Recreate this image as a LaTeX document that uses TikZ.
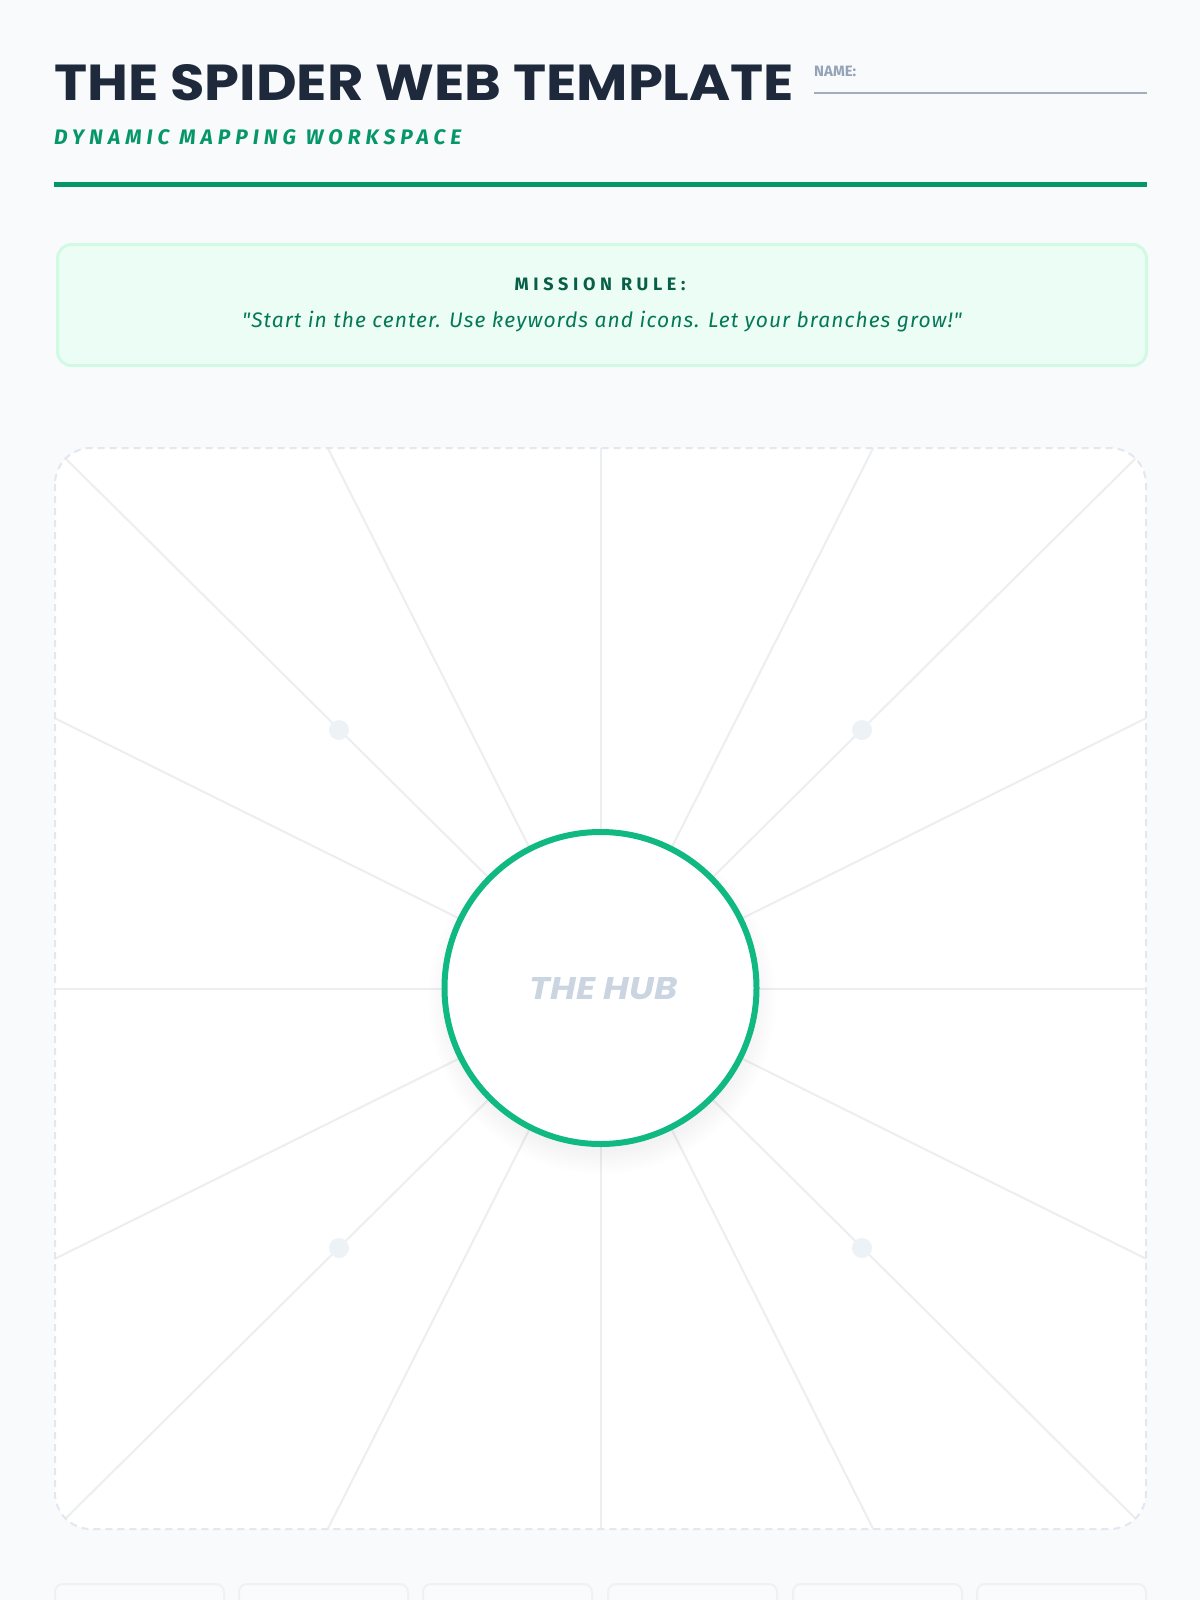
\documentclass[tikz,border=0pt]{standalone}
\usepackage{fontspec}
\setmainfont{Poppins}
\newfontfamily\firafont{Fira Sans}
\usetikzlibrary{positioning,calc}

\definecolor{pagebg}{HTML}{F8FAFC}
\definecolor{inkdark}{HTML}{1E293B}
\definecolor{brandgreen}{HTML}{059669}
\definecolor{hubgreen}{HTML}{10B981}
\definecolor{mintfill}{HTML}{ECFDF5}
\definecolor{mintline}{HTML}{D1FAE5}
\definecolor{rulegreen}{HTML}{065F46}
\definecolor{quotegreen}{HTML}{047857}
\definecolor{slatetext}{HTML}{94A3B8}
\definecolor{slateline}{HTML}{A0AEC0}
\definecolor{dashgray}{HTML}{E2E8F0}
\definecolor{spokegray}{HTML}{EDEEF0}
\definecolor{hubtext}{HTML}{CBD5E1}
\definecolor{dotfill}{HTML}{EDF2F7}
\definecolor{cardline}{HTML}{EEF2F6}
\definecolor{cardfill}{HTML}{FAFBFC}

\begin{document}
\begin{tikzpicture}[
    x=1pt, y=-1pt,
    heading/.style={anchor=base west, inner sep=0pt, text=inkdark},
    subheading/.style={anchor=base west, inner sep=0pt, text=brandgreen, font=\firafont\bfseries\itshape\fontsize{21}{22}\selectfont\addfontfeatures{LetterSpace=24}},
    missionbox/.style={draw=mintline, line width=3pt, fill=mintfill, rounded corners=14pt, anchor=north west, minimum width=1089pt, minimum height=121pt, inner sep=0pt},
    workspace/.style={draw=dashgray, line width=2pt, dash pattern=on 7pt off 5pt, rounded corners=36pt},
    spoke/.style={draw=spokegray, line width=2pt},
    hubring/.style={circle, draw=hubgreen, line width=6pt, fill=white, minimum size=312pt, inner sep=0pt},
    webdot/.style={circle, fill=dotfill, minimum size=20pt, inner sep=0pt},
    card/.style={draw=cardline, line width=2pt, fill=cardfill, rounded corners=8pt}
]

% Page
\useasboundingbox (0,0) rectangle (1200,1600);
\fill[pagebg] (0,0) rectangle (1200,1600);

% Header
\node[heading] (title) at (54,101) {\resizebox{740pt}{36pt}{\bfseries THE SPIDER WEB TEMPLATE}};
\node[subheading] (subtitle) at (54,144) {DYNAMIC MAPPING WORKSPACE};
\node[anchor=base west, inner sep=0pt, text=slatetext, font=\firafont\bfseries\fontsize{15}{16}\selectfont] (namelabel) at (814,77) {NAME:};
\coordinate (namestart) at (814,93);
\coordinate (nameend) at (1147,93);
\draw[slateline, line width=2pt] (namestart) -- (nameend);
\coordinate (rulestart) at (54,184.5);
\coordinate (ruleend) at (1147,184.5);
\draw[brandgreen, line width=5pt] (rulestart) -- (ruleend);

% Mission rule
\node[missionbox] (mission) at (56,243) {};
\node[inner sep=0pt, anchor=base, text=rulegreen, font=\firafont\bfseries\fontsize{18}{19}\selectfont\addfontfeatures{LetterSpace=26}] (ruletitle) at (600,290) {MISSION RULE:};
\node[inner sep=0pt, anchor=base, text=quotegreen, font=\firafont\itshape\fontsize{21}{22}\selectfont\addfontfeatures{LetterSpace=5}] (rulequote) at (602,327) {"Start in the center. Use keywords and icons. Let your branches grow!"};

% Workspace
\fill[white, rounded corners=36pt] (55,448) rectangle (1146,1529);
\begin{scope}
  \clip[rounded corners=36pt] (55,448) rectangle (1146,1529);
  \coordinate (hubc) at (600.5,988.5);
  \foreach \px/\py [count=\i] in {0/0, 0.25/0, 0.5/0, 0.75/0, 1/0, 1/0.25, 1/0.5, 1/0.75,
                                  1/1, 0.75/1, 0.5/1, 0.25/1, 0/1, 0/0.75, 0/0.5, 0/0.25} {
    \coordinate (s\i) at ($(55,448)+(\px*1091,\py*1081)$);
    \draw[spoke] (hubc) -- (s\i);
  }
\end{scope}
\draw[workspace] (55,448) rectangle (1146,1529);

% Branch dots
\node[webdot] (dotnw) at (339,730) {};
\node[webdot] (dotne) at (862,730) {};
\node[webdot] (dotsw) at (339,1248) {};
\node[webdot] (dotse) at (862,1248) {};

% Hub
\foreach \k in {1,...,12}
  \fill[black, opacity=0.005] (602,1000) circle (150pt+\k*2pt);
\node[hubring] (hub) at (600.5,988) {};
\node[text=hubtext, inner sep=0pt] (hublabel) at (604,989) {\resizebox{148pt}{22pt}{\bfseries\itshape THE HUB}};

% Cards
\foreach \cx in {55,239,423,608,793,977}
  \draw[card] (\cx,1584) rectangle ++(169,40);

\end{tikzpicture}
\end{document}
